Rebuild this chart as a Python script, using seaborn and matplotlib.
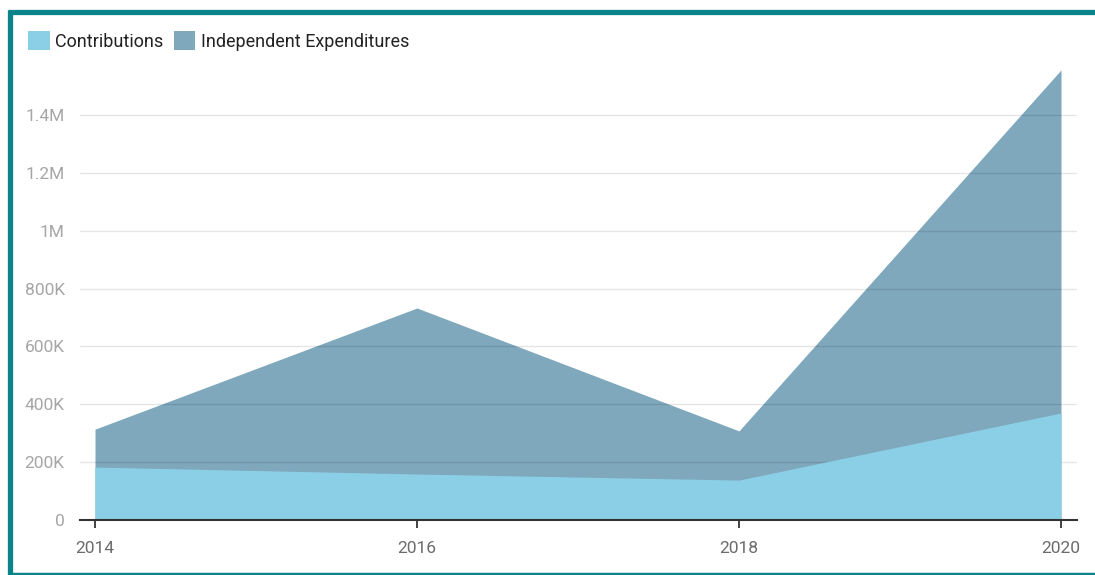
import matplotlib
matplotlib.use("Agg")
import matplotlib.pyplot as plt
import seaborn as sns
import pandas as pd
from matplotlib.lines import Line2D
from matplotlib.patches import Patch

years = [2014, 2016, 2018, 2020]
contributions = [183000, 159000, 138000, 370000]
independent_expenditures = [314000, 733000, 308000, 1556000]
y_ticks = [0, 200000, 400000, 600000, 800000, 1000000, 1200000, 1400000]
y_tick_labels = ["0", "200K", "400K", "600K", "800K", "1M", "1.2M", "1.4M"]

df = pd.DataFrame({"year": years, "Contributions": contributions,
                   "Independent Expenditures": independent_expenditures})

sns.set_theme(style="white")
plt.rcParams["font.family"] = ["Roboto", "DejaVu Sans"]

c_light = "#8bcfe6"
c_dark = "#7fa8bc"

fig = plt.figure(figsize=(10.95, 5.75), dpi=100)
ax = fig.add_axes([80/1095, 55/575, (1077-80)/1095, (520-63)/575])

sns.lineplot(data=df, x="year", y="Independent Expenditures", ax=ax, lw=0, color=c_dark)
sns.lineplot(data=df, x="year", y="Contributions", ax=ax, lw=0, color=c_light)
ax.fill_between(df["year"], 0, df["Independent Expenditures"], color=c_dark, lw=0, zorder=2)

# gridlines: translucent dark, drawn over the darker area but under the light one
for t in y_ticks[1:]:
    ax.axhline(t, color="black", lw=1.0, alpha=0.1, zorder=2.5)

ax.fill_between(df["year"], 0, df["Contributions"], color=c_light, lw=0, zorder=3)

ax.set_xlim(2014 - 15/161, 2020 + 16/161)
ax.set_ylim(0, 1580000)
ax.set_xticks(years)
ax.set_xticklabels([str(y) for y in years])
ax.set_yticks(y_ticks)
ax.set_yticklabels(y_tick_labels)
ax.set_xlabel("")
ax.set_ylabel("")

for s in ["top", "right", "left"]:
    ax.spines[s].set_visible(False)
ax.spines["bottom"].set_color("#333333")
ax.spines["bottom"].set_linewidth(1.5)
ax.spines["bottom"].set_zorder(5)

ax.tick_params(axis="x", bottom=True, length=6, width=1.3, color="#333333",
               labelsize=12.5, labelcolor="#6b6b6b", pad=9)
ax.tick_params(axis="y", left=False, labelsize=12.5, labelcolor="#a6a6a6", pad=5)

handles = [Patch(facecolor=c_light, edgecolor="none", label="Contributions"),
           Patch(facecolor=c_dark, edgecolor="none", label="Independent Expenditures")]
fig.legend(handles=handles, loc="upper left", bbox_to_anchor=(12/1095, 1 - 15/575),
           ncol=2, frameon=False, fontsize=13, handlelength=1.2, handleheight=1.2,
           handletextpad=0.3, columnspacing=0.55, labelcolor="#222222")

# teal frame
teal = "#0a838b"
kw = dict(transform=fig.transFigure, color=teal, solid_capstyle="butt")
fig.add_artist(Line2D([9.5/1095, 9.5/1095], [0, 1 - 9.5/575], lw=3.8, **kw))
fig.add_artist(Line2D([7.5/1095, 1], [1 - 11.5/575, 1 - 11.5/575], lw=3.8, **kw))
fig.add_artist(Line2D([7.5/1095, 1], [1.5/575, 1.5/575], lw=2.5, **kw))

fig.savefig("out.png", dpi=100)
